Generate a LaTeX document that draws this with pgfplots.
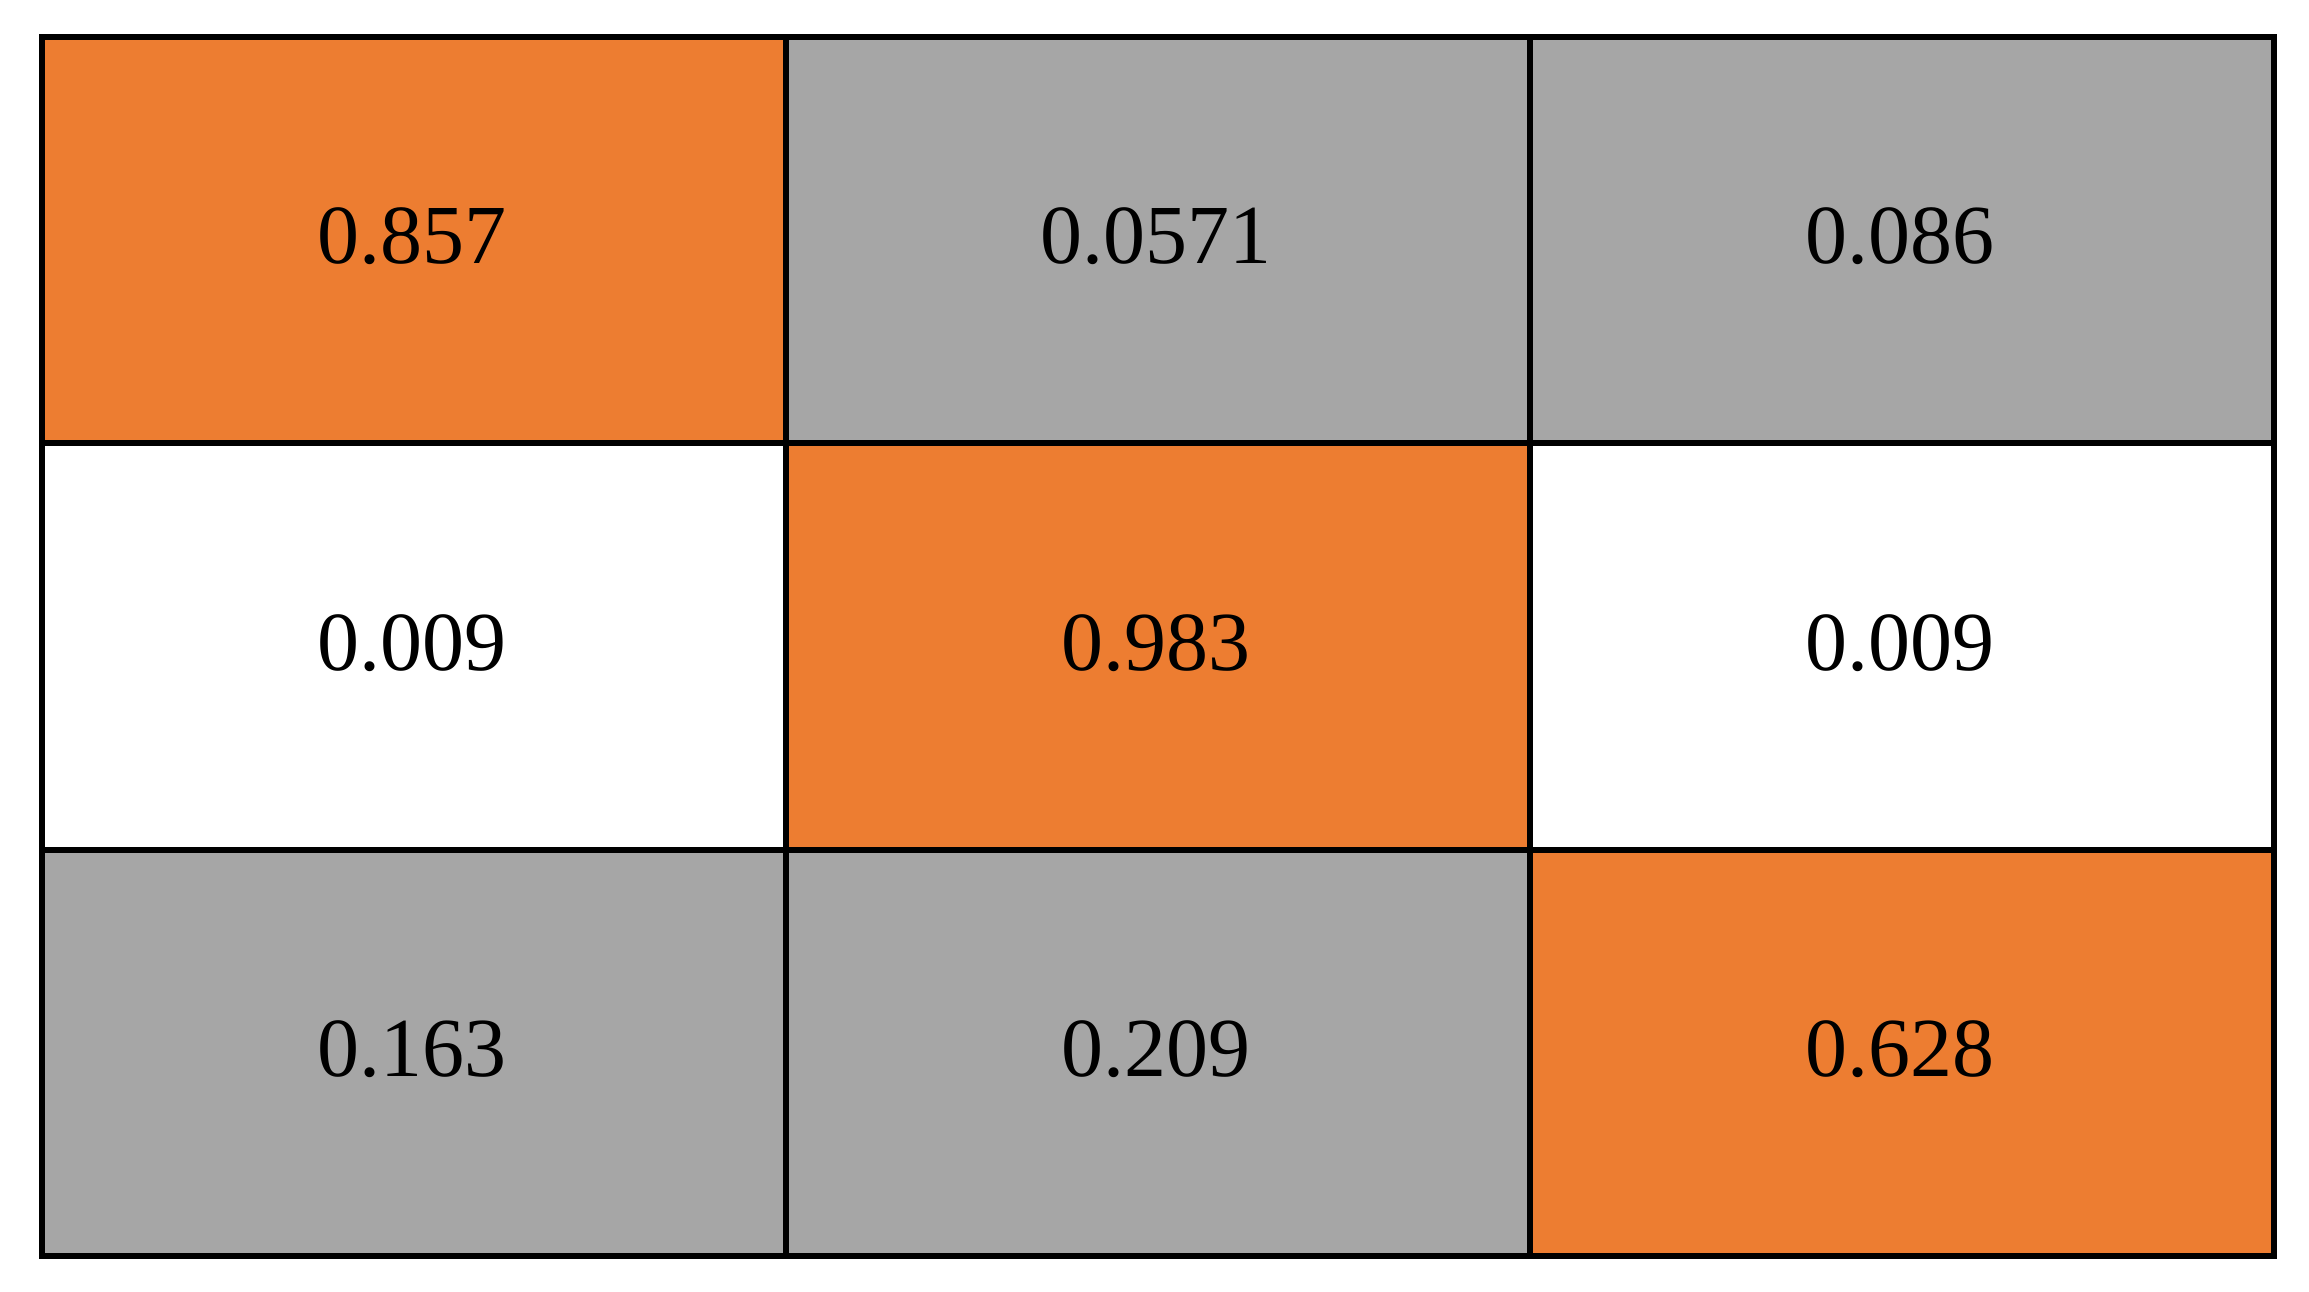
\documentclass[border=0pt]{standalone}
\usepackage{pgfplots}
\pgfplotsset{compat=1.18}
\usepackage{fontspec}
\setmainfont{Liberation Serif}
\definecolor{orangec}{HTML}{ED7D31}
\definecolor{grayc}{HTML}{A6A6A6}
\begin{document}
\begin{tikzpicture}
\path[use as bounding box] (0,0) rectangle (461.8pt,258.4pt);
\begin{axis}[at={(8.4pt,7.2pt)}, anchor=south west, scale only axis,
  width=446.4pt, height=243.8pt,
  xmin=0, xmax=3, ymin=0, ymax=3,
  xtick={1,2}, ytick={1,2}, xticklabels={}, yticklabels={},
  major tick length=0pt,
  grid=major, major grid style={black, line width=1.2pt},
  axis line style={black, line width=1.2pt},
  axis on top,
  colormap={cat}{color=(white) color=(grayc) color=(orangec)},
  point meta min=0, point meta max=2]
\addplot[matrix plot*, mesh/cols=3, point meta=explicit] table[meta=c] {
x y c
0.5 0.5 1
1.5 0.5 1
2.5 0.5 2
0.5 1.5 0
1.5 1.5 2
2.5 1.5 0
0.5 2.5 2
1.5 2.5 1
2.5 2.5 1
};
\addplot[only marks, mark=none, nodes near coords, point meta=explicit symbolic,
  every node near coord/.append style={anchor=center, xshift=-0.5pt, yshift=0.7pt, font=\fontsize{16.8}{20}\selectfont, text=black}]
  table[meta=t] {
x y t
0.5 2.5 0.857
1.5 2.5 0.0571
2.5 2.5 0.086
0.5 1.5 0.009
1.5 1.5 0.983
2.5 1.5 0.009
0.5 0.5 0.163
1.5 0.5 0.209
2.5 0.5 0.628
};
\end{axis}
\end{tikzpicture}
\end{document}
